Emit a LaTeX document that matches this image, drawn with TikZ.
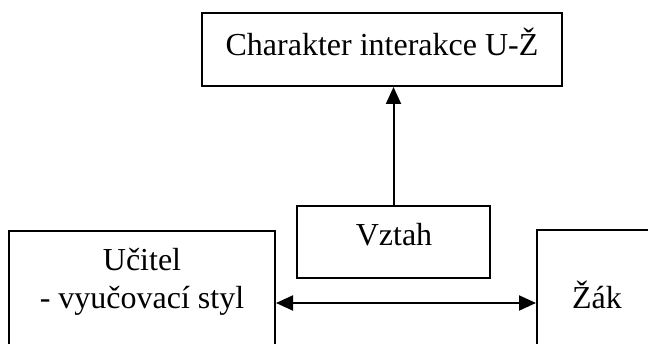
\documentclass[tikz,border=0pt]{standalone}
\usepackage{fontspec}
\setmainfont{Liberation Serif}
\usetikzlibrary{arrows.meta}
\tikzset{
  box/.style={draw=black, line width=2pt, inner sep=0pt},
  lbl/.style={inner sep=0pt, anchor=base, align=center,
    font=\fontsize{32}{38}\selectfont},
  tip/.style={Triangle[length=17pt,width=15pt]},
  arr/.style={line width=2pt, -{Triangle[length=17pt,width=15pt]}},
  dblarr/.style={line width=2pt, {Triangle[length=17pt,width=15pt]}-{Triangle[length=17pt,width=15pt]}}
}
\begin{document}
\begin{tikzpicture}[x=1pt, y=-1pt]
  \useasboundingbox (0,0) rectangle (648,344);
  \clip (0,0) rectangle (648,344);
  \fill[white] (0,0) rectangle (648,344);

  % boxes
  \node[box, minimum width=360pt, minimum height=73pt] (top) at (382,49.5) {};
  \node[box, minimum width=193pt, minimum height=72pt] (vztah) at (393.5,242.5) {};
  \node[box, minimum width=266pt, minimum height=150pt] (ucitel) at (142,306) {};
  \node[box, minimum width=170pt, minimum height=150pt] (zak) at (622,305) {};

  % texts
  \node[lbl] (toplbl) at (382,56) {Charakter interakce U-Ž};
  \node[lbl] (vztahlbl) at (394,246) {Vztah};
  \node[lbl] (ucitellbl1) at (142,271) {Učitel};
  \node[lbl] (ucitellbl2) at (142,309) {- vyučovací styl};
  \node[lbl] (zaklbl) at (597,309) {Žák};

  % connectors
  \draw[arr] (vztah.north) -- (vztah.north |- top.south);
  \draw[dblarr] (ucitel.east |- 0,303) -- (zak.west |- 0,303);
\end{tikzpicture}
\end{document}
